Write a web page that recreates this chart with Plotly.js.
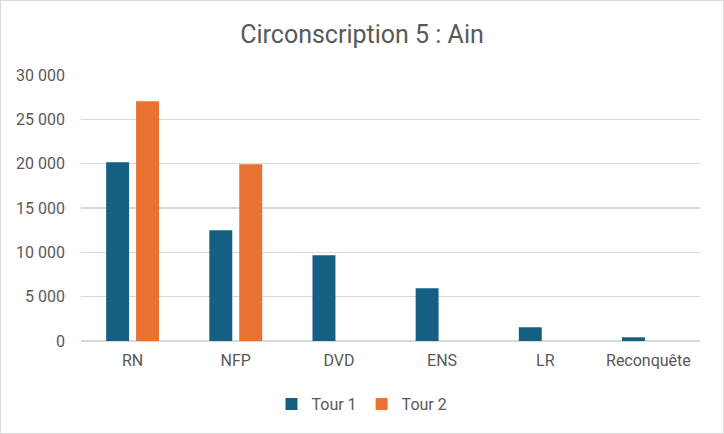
<!DOCTYPE html>
<html>
<head>
<meta charset="utf-8">
<script src="https://cdn.plot.ly/plotly-3.0.1.min.js"></script>
<style>
  html, body { margin: 0; padding: 0; background: #fff; }
  #wrap { position: relative; width: 724px; height: 434px; }
  #chart { width: 724px; height: 434px; }
  #frame { position: absolute; left: 0; top: 0; width: 724px; height: 434px; box-sizing: border-box; border: 1px solid #d9d9d9; pointer-events: none; }
</style>
</head>
<body>
<div id="wrap">
  <div id="chart"></div>
  <div id="frame"></div>
</div>
<script>
const categories = ["RN", "NFP", "DVD", "ENS", "LR", "Reconquête"];
const tour1 = [20150, 12480, 9660, 5940, 1550, 420];
const tour2 = [27030, 19930, null, null, null, null];
const yTickVals = [0, 5000, 10000, 15000, 20000, 25000, 30000];
const yTickText = ["0", "5 000", "10 000", "15 000", "20 000", "25 000", "30 000"];

const FONT = "Roboto, 'Liberation Sans', sans-serif";
const TXT = "#595959";

const data = [
  { type: "bar", name: "Tour 1", x: categories, y: tour1, marker: { color: "#156082" }, hoverinfo: "x+y+name" },
  { type: "bar", name: "Tour 2", x: categories, y: tour2, marker: { color: "#E97132" }, hoverinfo: "x+y+name" }
];

const layout = {
  width: 724,
  height: 434,
  margin: { l: 81, r: 24, t: 75, b: 93 },
  paper_bgcolor: "#ffffff",
  plot_bgcolor: "#ffffff",
  font: { family: FONT, color: TXT, size: 16 },
  title: {
    text: "Circonscription 5 : Ain",
    font: { family: FONT, size: 25, color: TXT },
    xref: "container", x: 0.5, xanchor: "center",
    yref: "container", y: 1 - 34 / 434, yanchor: "middle"
  },
  barmode: "group",
  bargap: 0.42,
  bargroupgap: 0.233,
  xaxis: {
    type: "category",
    showgrid: false,
    showline: false,
    zeroline: false,
    ticks: "",
    tickfont: { family: FONT, size: 16, color: TXT },
    ticklabelstandoff: 8
  },
  yaxis: {
    range: [0, 30000],
    tickvals: yTickVals,
    ticktext: yTickText,
    showgrid: true,
    gridcolor: "#d9d9d9",
    gridwidth: 1.3,
    zeroline: true,
    zerolinecolor: "#d9d9d9",
    zerolinewidth: 1.3,
    showline: false,
    ticks: "",
    tickfont: { family: FONT, size: 16, color: TXT },
    ticklabelstandoff: 15
  },
  showlegend: true,
  legend: {
    orientation: "h",
    xref: "container", x: 0.5, xanchor: "center",
    yref: "container", y: 1 - 404 / 434, yanchor: "middle",
    font: { family: FONT, size: 16, color: TXT },
    itemwidth: 30,
    traceorder: "normal"
  }
};

Plotly.newPlot("chart", data, layout, { displayModeBar: false, staticPlot: true });
</script>
</body>
</html>
